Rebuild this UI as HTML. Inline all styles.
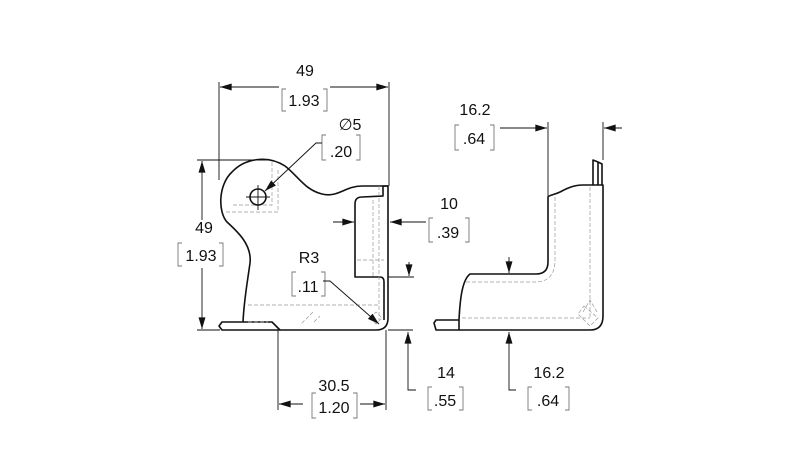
<!DOCTYPE html>
<html><head><meta charset="utf-8"><style>
html,body{margin:0;padding:0;background:#fff;}
svg{display:block}
text{font-family:"Liberation Sans",sans-serif;font-size:16px;fill:#111;text-anchor:middle}
.o{fill:none;stroke:#111;stroke-width:1.6;stroke-linejoin:round}
.d{fill:none;stroke:#111;stroke-width:0.9}
.h{fill:none;stroke:#999;stroke-width:0.7;stroke-dasharray:4 2}
.b{fill:none;stroke:#777;stroke-width:0.9}
</style></head><body>
<svg width="795" height="460" viewBox="0 0 795 460" xmlns="http://www.w3.org/2000/svg">
<defs>
<marker id="a" viewBox="0 0 10 6" refX="10" refY="3" markerWidth="14" markerHeight="7" markerUnits="userSpaceOnUse" orient="auto"><path d="M0,0 L10,3 L0,6z" fill="#111"/></marker>
</defs>

<!-- LEFT VIEW outline -->
<path class="o" d="M243,322 C244,300 247,285 250,263 C252,245 238,232 227,222 C218,212 218,185 232,172 C245,158 268,155 285,166 C298,176 305,190 322,194 C338,198 345,186 362,186 L388,186 L388,318 Q388,330 376,330 L280,330 L272,322 L222,322 L219,326 L222,330 L280,330"/>
<path class="o" d="M388,186 L383,186 L383,196 L362,197 Q355,197 355,204 L355,277 L380,277 Q384,277 384,282 L384,320"/>
<path class="h" d="M233,205 L272,205 L272,162 M226,212 L278,212 L278,168"/>
<path class="h" d="M248,305 L380,305 M248,322 L268,322 M379,186 L379,320 M373,200 L373,277 M357,260 L384,260"/>
<path class="h" d="M313,312 L300,325 M314,322 L320,316 M370,318 L376,312 L382,318 L376,324z"/>
<circle cx="258" cy="197" r="8" class="o" stroke-width="1.3"/>
<path class="d" d="M246,197 L270,197 M258,185 L258,210"/>

<!-- left dims -->
<path class="d" d="M219,82 L219,180 M389,82 L389,186"/>
<path class="d" d="M279,87 L220,87" marker-end="url(#a)"/>
<path class="d" d="M330,87 L388,87" marker-end="url(#a)"/>
<text x="305" y="76">49</text>
<path class="b" d="M286,89 h-4 v22 h4 M323,89 h4 v22 h-4"/>
<text x="304" y="106">1.93</text>

<text x="350" y="130">∅5</text>
<path class="b" d="M326,135 h-4 v25 h4 M356,135 h4 v25 h-4"/>
<text x="341" y="157">.20</text>
<path class="d" d="M322,143 L316,143 L265,191" marker-end="url(#a)"/>

<path class="d" d="M197,160 L270,160 M197,330 L220,330"/>
<path class="d" d="M202,220 L202,161" marker-end="url(#a)"/>
<path class="d" d="M202,268 L202,329" marker-end="url(#a)"/>
<text x="204" y="233">49</text>
<path class="b" d="M182,243 h-4 v23 h4 M219,243 h4 v23 h-4"/>
<text x="201" y="261">1.93</text>

<path class="d" d="M333,222 L354,222" marker-end="url(#a)"/>
<path class="d" d="M426,222 L390,222" marker-end="url(#a)"/>
<text x="449" y="209">10</text>
<path class="b" d="M433,218 h-4 v24 h4 M465,218 h4 v24 h-4"/>
<text x="448" y="238">.39</text>

<path class="d" d="M388,277 L414,277"/>
<path class="d" d="M409,262 L409,276" marker-end="url(#a)"/>

<text x="309" y="263">R3</text>
<path class="b" d="M296,272 h-4 v24 h4 M321,272 h4 v24 h-4"/>
<text x="308" y="292">.11</text>
<path class="d" d="M323,281 L330,281 L379,324" marker-end="url(#a)"/>

<path class="d" d="M388,330 L413,330"/>
<path class="d" d="M416,390 L408,390 L408,332" marker-end="url(#a)"/>
<text x="446" y="378">14</text>
<path class="b" d="M432,387 h-4 v23 h4 M459,387 h4 v23 h-4"/>
<text x="445" y="406">.55</text>

<path class="d" d="M278,330 L278,410 M386,330 L386,410"/>
<path class="d" d="M303,404 L279,404" marker-end="url(#a)"/>
<path class="d" d="M360,404 L385,404" marker-end="url(#a)"/>
<text x="334" y="391">30.5</text>
<path class="b" d="M316,393 h-4 v25 h4 M353,393 h4 v25 h-4"/>
<text x="334" y="413">1.20</text>

<!-- RIGHT VIEW -->
<path class="o" d="M458,330 L590,330 Q603,330 603,316 L603,185 L583,185 C573,185 566,189 560,192 C554,195 549,195 548,197 L548,262 Q548,274 536,274 L470,274 C462,280 460,300 459,320 L459,330 M459,320 L436,320 L434,323 L436,330 L459,330"/>
<path class="o" d="M593,185 L593,160 L598,162 L602,164 L602,185 M598,162 L598,185" stroke-width="1.2"/>
<path class="h" d="M555,197 L555,260 Q555,282 535,282 L466,282 M590,187 L590,318 M462,318 L590,318 M584,306 L598,318 L590,326 L578,314z M583,312 L590,300 L597,312"/>

<path class="d" d="M548,122 L548,196 M603,122 L603,160"/>
<path class="d" d="M500,128 L547,128" marker-end="url(#a)"/>
<path class="d" d="M622,128 L604,128" marker-end="url(#a)"/>
<text x="475" y="115">16.2</text>
<path class="b" d="M459,125 h-4 v25 h4 M490,125 h4 v25 h-4"/>
<text x="474" y="144">.64</text>

<path class="d" d="M509,257 L509,273" marker-end="url(#a)"/>
<path class="d" d="M516,390 L509,390 L509,332" marker-end="url(#a)"/>
<text x="549" y="378">16.2</text>
<path class="b" d="M532,387 h-4 v23 h4 M565,387 h4 v23 h-4"/>
<text x="548" y="406">.64</text>
</svg>
</body></html>
